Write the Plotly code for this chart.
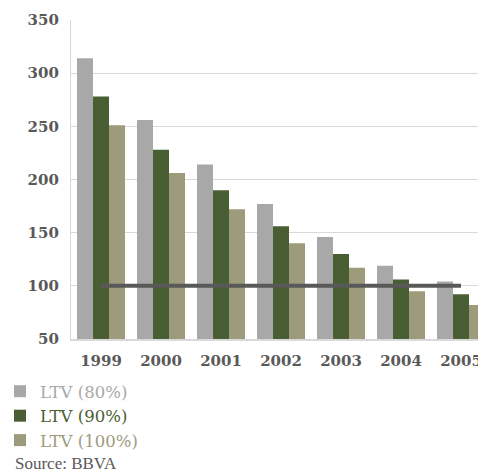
import plotly.graph_objects as go

# Affordability index by loan-to-value ratio
years = ["1999", "2000", "2001", "2002", "2003", "2004", "2005"]
ltv_80 = [314, 256, 214, 177, 146, 119, 104]
ltv_90 = [278, 228, 190, 156, 130, 106, 92]
ltv_100 = [251, 206, 172, 140, 117, 95, 82]
threshold = [100, 100, 100, 100, 100, 100, 100]

series = [
    ("LTV (80%)", ltv_80, "#A8A8A8"),
    ("LTV (90%)", ltv_90, "#4A5E33"),
    ("LTV (100%)", ltv_100, "#9E9A7C"),
]

fig = go.Figure()
for name, vals, color in series:
    fig.add_trace(go.Bar(
        x=years, y=vals, marker=dict(color=color, line=dict(width=0)),
        name=f"<span style='color:{color}'>{name}</span>",
    ))

fig.add_trace(go.Scatter(
    x=years, y=threshold, mode="lines",
    line=dict(color="#595959", width=4), showlegend=False,
))

W, H = 478, 476
L, T, B = 71, 20, 137
plot_w = W - L
plot_h = H - T - B

fig.update_layout(
    width=W, height=H,
    margin=dict(l=L, r=0, t=T, b=B, pad=0, autoexpand=False),
    paper_bgcolor="white", plot_bgcolor="white",
    barmode="group", bargap=0.2, bargroupgap=0,
    font=dict(family="DejaVu Serif", color="#595959"),
    showlegend=True,
    legend=dict(
        xref="container", yref="container",
        x=0, y=1 - 374 / H, xanchor="left", yanchor="top",
        orientation="v", traceorder="normal",
        font=dict(family="DejaVu Serif", size=16.5),
        itemwidth=30, tracegroupgap=0, bgcolor="rgba(0,0,0,0)",
    ),
    xaxis=dict(
        range=[-0.5, -0.5 + plot_w / 60], showgrid=False,
        showline=True, linecolor="#D9D9D9", linewidth=2,
        ticks="", tickangle=0,
        tickfont=dict(size=15, color="#595959", weight="bold"),
        ticklabelstandoff=7,
    ),
    yaxis=dict(
        range=[50, 350], dtick=50, showgrid=True,
        gridcolor="#D9D9D9", gridwidth=1.3,
        showline=True, linecolor="#D9D9D9", linewidth=1.3,
        ticks="", tickfont=dict(size=15, color="#595959", weight="bold"),
        ticklabelstandoff=8, zeroline=False,
    ),
    annotations=[dict(
        text="Source: BBVA", xref="paper", yref="paper",
        x=(13 - L) / plot_w, y=(T + plot_h - 463) / plot_h,
        xanchor="left", yanchor="middle", showarrow=False,
        font=dict(family="Liberation Serif", size=17, color="#595959"),
    )],
)

fig.write_html("out.html")
